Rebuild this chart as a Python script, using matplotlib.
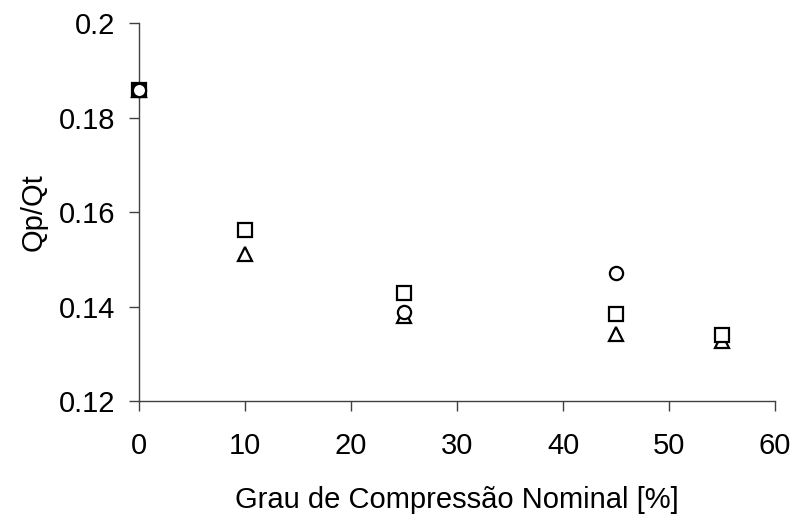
import matplotlib
matplotlib.use("Agg")
import matplotlib.pyplot as plt

plt.rcParams['font.family'] = ['Liberation Sans', 'DejaVu Sans']

# Compression degree [%] and Qp/Qt ratio for each marker series
x_ref = [0]
y_ref = [0.1858]

x_tri = [0, 10, 25, 45, 55]
y_tri = [0.1858, 0.1512, 0.1379, 0.1341, 0.1327]

x_sq = [10, 25, 45, 55]
y_sq = [0.1563, 0.1429, 0.1384, 0.1339]

x_circ = [0, 25, 45]
y_circ = [0.1858, 0.1389, 0.1471]

x_ticks = [0, 10, 20, 30, 40, 50, 60]
y_ticks = [0.12, 0.14, 0.16, 0.18, 0.2]
y_tick_labels = ["0.12", "0.14", "0.16", "0.18", "0.2"]

fig = plt.figure(figsize=(7.97, 5.23), dpi=100)
ax = fig.add_axes([0.1744, 0.2333, 0.7980, 0.7221])

mk = dict(linestyle='none', markersize=9.5, markeredgewidth=1.6,
          markeredgecolor='black', markerfacecolor='white', clip_on=False)
ax.plot(x_tri, y_tri, marker='^', zorder=3, **mk)
ax.plot(x_ref, y_ref, marker='s', linestyle='none', markersize=9.5,
        markeredgewidth=1.6, color='black', zorder=4, clip_on=False)
ax.plot(x_sq, y_sq, marker='s', zorder=4, **mk)
ax.plot(x_circ, y_circ, marker='o', zorder=5, **mk)

ax.set_xlim(0, 60)
ax.set_ylim(0.12, 0.2)
ax.set_xticks(x_ticks)
ax.set_yticks(y_ticks)
ax.set_yticklabels(y_tick_labels)

for s in ['top', 'right']:
    ax.spines[s].set_visible(False)
for s in ['left', 'bottom']:
    ax.spines[s].set_color('#404040')
    ax.spines[s].set_linewidth(1.0)

ax.tick_params(axis='both', direction='out', length=7, width=1.0,
               color='#404040', labelsize=21, labelcolor='black')
ax.tick_params(axis='x', pad=15)
ax.tick_params(axis='y', pad=10)

ax.set_xlabel("Grau de Compressão Nominal [%]", fontsize=21, labelpad=19)
ax.set_ylabel("Qp/Qt", fontsize=21, labelpad=8)

fig.savefig("out.png", dpi=100)
